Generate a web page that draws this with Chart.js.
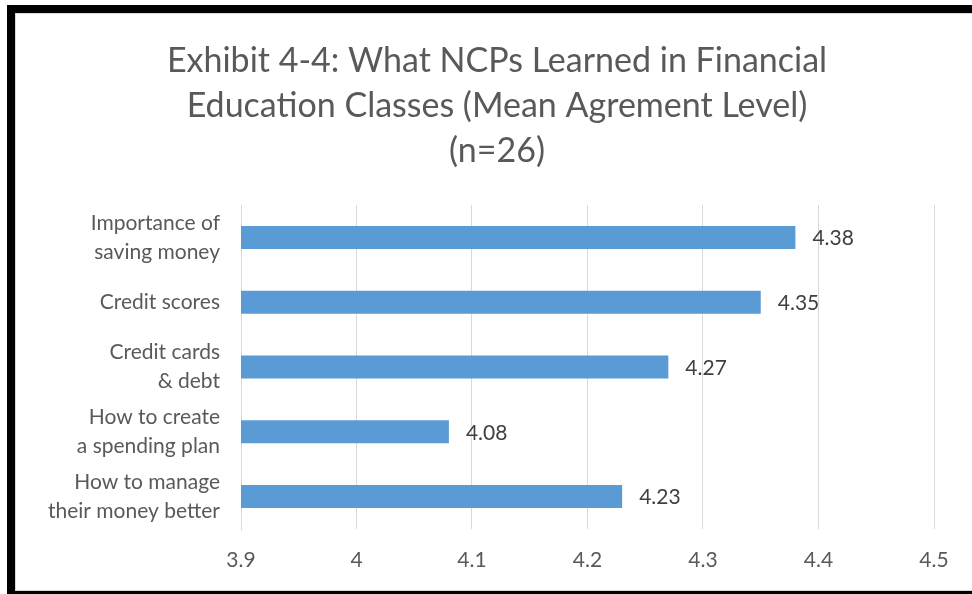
<!DOCTYPE html>
<html>
<head>
<meta charset="utf-8">
<script src="https://cdn.jsdelivr.net/npm/chart.js@4"></script>
<style>
  html, body { margin: 0; padding: 0; background: #fff; width: 972px; height: 594px; overflow: hidden; }
  #frame { position: absolute; left: 7px; top: 5px; width: 980px; height: 589px;
           border-top: 8px solid #000; border-left: 8px solid #000; border-bottom: 3px solid #000; box-sizing: border-box; }
  #inner { position: absolute; left: 15px; top: 13px; width: 970px; height: 578px;
           border-top: 1px solid #D9D9D9; border-left: 1px solid #D9D9D9; border-bottom: 1px solid #D9D9D9; box-sizing: border-box; }
  #wrap { position: absolute; left: 16px; top: 14px; width: 956px; height: 576px; }
</style>
</head>
<body>
<div id="frame"></div>
<div id="inner"></div>
<div id="wrap"><canvas id="c" width="956" height="576"></canvas></div>
<script>
const titleLines = ["Exhibit 4-4: What NCPs Learned in Financial", "Education Classes (Mean Agrement Level)", "(n=26)"];
const categories = [
  ["Importance of", "saving money"],
  "Credit scores",
  ["Credit cards", "& debt"],
  ["How to create", "a spending plan"],
  ["How to manage", "their money better"]
];
const values = [4.38, 4.35, 4.27, 4.08, 4.23];
const axisMin = 3.9;
const axisMax = 4.5;
const axisStep = 0.1;

const valueLabels = {
  id: 'valueLabels',
  afterDatasetsDraw(chart) {
    const ctx = chart.ctx;
    const meta = chart.getDatasetMeta(0);
    ctx.save();
    ctx.font = '21px Lato';
    ctx.fillStyle = '#404040';
    ctx.textAlign = 'left';
    ctx.textBaseline = 'middle';
    meta.data.forEach((bar, i) => {
      ctx.fillText(values[i].toFixed(2), bar.x + 17, bar.y + 1);
    });
    ctx.restore();
  }
};

new Chart(document.getElementById('c'), {
  type: 'bar',
  data: {
    labels: categories,
    datasets: [{
      data: values,
      backgroundColor: '#5B9BD5',
      borderWidth: 0,
      barPercentage: 0.355,
      categoryPercentage: 1.0
    }]
  },
  options: {
    indexAxis: 'y',
    responsive: false,
    animation: false,
    devicePixelRatio: 1,
    layout: { padding: { top: 0, right: 0, bottom: 0, left: 6 } },
    plugins: {
      legend: { display: false },
      tooltip: { enabled: false },
      title: {
        display: true,
        text: titleLines,
        color: '#595959',
        font: { family: 'Lato', size: 34, weight: 'normal', lineHeight: 45 / 34 },
        padding: { top: 25, bottom: 31 }
      }
    },
    scales: {
      x: {
        min: axisMin,
        max: axisMax,
        grid: { color: '#D9D9D9', lineWidth: 1, drawTicks: false },
        border: { display: false },
        ticks: {
          stepSize: axisStep,
          color: '#595959',
          padding: 19,
          font: { family: 'Lato', size: 21, lineHeight: 1.2 },
          callback: (v) => Number(v.toFixed(1)).toString()
        },
        afterFit: (s) => { s.height = 61; }
      },
      y: {
        grid: { display: false, drawTicks: false },
        border: { display: true, color: '#D9D9D9', width: 1 },
        ticks: {
          color: '#595959',
          padding: 21,
          font: { family: 'Lato', size: 21, lineHeight: 1.38 }
        },
        afterFit: (s) => { s.width = 219; }
      },
      yRight: {
        type: 'category',
        position: 'right',
        display: true,
        grid: { display: false, drawTicks: false },
        border: { display: false },
        ticks: { display: false },
        afterFit: (s) => { s.width = 38; }
      }
    }
  },
  plugins: [valueLabels]
});
</script>
</body>
</html>
